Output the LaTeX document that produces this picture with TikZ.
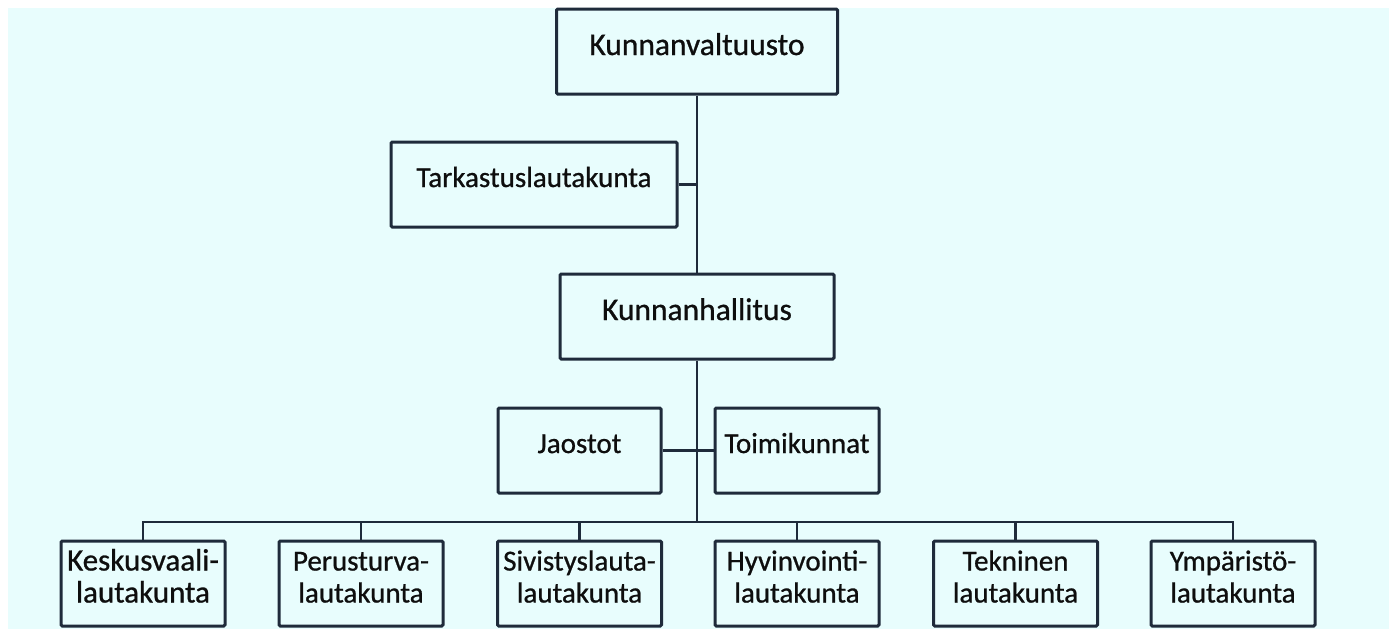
\documentclass[tikz,border=0pt]{standalone}
\usepackage{fontspec}
\setmainfont{Carlito}
\newfontfamily\lblfont{Carlito}[FakeBold=0.8]
\definecolor{bgc}{HTML}{E8FDFD}
\definecolor{linec}{HTML}{1F2B3B}
\definecolor{txtc}{HTML}{0E0E0E}
\tikzset{
  box/.style={draw=linec, line width=3pt, rounded corners=1.2pt, minimum height=85pt, inner sep=0pt},
  wbox/.style={box, minimum width=#1},
  lbl/.style={font=\lblfont\fontsize{29}{32}\selectfont, text=txtc, inner sep=0pt, anchor=base},
  lblbig/.style={lbl, font=\lblfont\fontsize{31.5}{32}\selectfont},
  conn/.style={draw=linec, line width=2.5pt},
}
\newcommand{\twol}[2]{\begin{tabular}[t]{@{}c@{}}#1\\#2\end{tabular}}
\begin{document}
\begin{tikzpicture}[x=1pt, y=-1pt]
\useasboundingbox (0,0) rectangle (1389,630);
\fill[white] (0,0) rectangle (1389,630);
\fill[bgc] (8,8) rectangle (1389,629);

\node[wbox=281pt] (kv) at (697,51.5) {};
\node[wbox=286pt] (tl) at (534,184.5) {};
\node[wbox=274pt] (kh) at (697,316.5) {};
\node[wbox=163pt] (ja) at (579.5,450.5) {};
\node[wbox=164pt] (to) at (797,450.5) {};
\node[wbox=164pt] (ke) at (143,583.5) {};
\node[wbox=164pt] (pe) at (361,583.5) {};
\node[wbox=164pt] (si) at (579.5,583.5) {};
\node[wbox=164pt] (hy) at (797,583.5) {};
\node[wbox=164pt] (te) at (1015.5,583.5) {};
\node[wbox=164pt] (ym) at (1233,583.5) {};

\node[lblbig] (kvt) at ([yshift=-3.5pt]kv.center) {Kunnanvaltuusto};
\node[lbl] (tlt) at ([yshift=-2.5pt]tl.center) {Tarkastuslautakunta};
\node[lblbig] (kht) at ([yshift=-3.5pt]kh.center) {Kunnanhallitus};
\node[lbl] (jat) at ([yshift=-2.5pt]ja.center) {Jaostot};
\node[lbl] (tot) at ([yshift=-2.5pt]to.center) {Toimikunnat};
\node[lbl, font=\lblfont\fontsize{31}{32}\selectfont] (ket) at ([yshift=13pt]ke.center) {\twol{Keskusvaali-}{lautakunta}};
\node[lbl] (pet) at ([yshift=13pt]pe.center) {\twol{Perusturva-}{lautakunta}};
\node[lbl] (sit) at ([yshift=13pt]si.center) {\twol{Sivistyslauta-}{lautakunta}};
\node[lbl] (hyt) at ([yshift=13pt]hy.center) {\twol{Hyvinvointi-}{lautakunta}};
\node[lbl] (tet) at ([yshift=13pt]te.center) {\twol{Tekninen}{lautakunta}};
\node[lbl] (ymt) at ([yshift=13pt]ym.center) {\twol{Ympäristö-}{lautakunta}};

\coordinate (bus) at (697,522);

\draw[conn] (kv.south) -- (kh.north);
\draw[conn] (tl.east) -- (tl.east -| kv.south);
\draw[conn] (kh.south) -- (bus);
\draw[conn] (ja.east) -- (to.west);
\draw[conn] (ke.north) |- (bus) -| (ym.north);
\draw[conn] (pe.north) -- (pe.north |- bus);
\draw[conn] (si.north) -- (si.north |- bus);
\draw[conn] (hy.north) -- (hy.north |- bus);
\draw[conn] (te.north) -- (te.north |- bus);
\end{tikzpicture}
\end{document}
